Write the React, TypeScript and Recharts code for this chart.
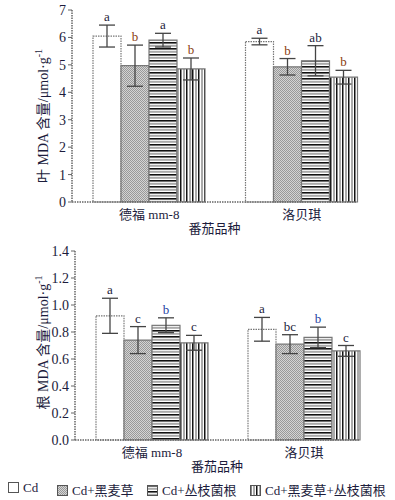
import React from "react";
import { BarChart, Bar, XAxis, YAxis, ErrorBar, LabelList, Label } from "recharts";

// cultivars on the x axis
const categories = ["德福 mm-8", "洛贝琪"];
const seriesNames = ["Cd", "Cd+黑麦草", "Cd+丛枝菌根", "Cd+黑麦草+丛枝菌根"];

// leaf MDA, one row per cultivar, one column per treatment
const leafMean = [
  [6.05, 4.97, 5.9, 4.85],
  [5.85, 4.93, 5.15, 4.55],
];
const leafErr = [
  [0.4, 0.75, 0.25, 0.4],
  [0.12, 0.3, 0.55, 0.25],
];
const leafSig = [
  ["a", "b", "a", "b"],
  ["a", "b", "ab", "b"],
];
const leafTicks = [0, 1, 2, 3, 4, 5, 6, 7];

// root MDA
const rootMean = [
  [0.92, 0.74, 0.85, 0.72],
  [0.82, 0.71, 0.76, 0.66],
];
const rootErr = [
  [0.13, 0.1, 0.055, 0.055],
  [0.088, 0.07, 0.076, 0.04],
];
const rootSig = [
  ["a", "c", "b", "c"],
  ["a", "bc", "b", "c"],
];
const rootTicks = [0, 0.2, 0.4, 0.6, 0.8, 1.0, 1.2, 1.4];

const FONT = '"Liberation Serif", "Noto Sans CJK SC", serif';
const INK = "#1c1c3c";
const fills = ["#ffffff", "url(#stip)", "url(#hstripe)", "url(#vstripe)"];
const leafLetterColor: Record<string, string> = { a: INK, b: "#8a3c10", ab: INK };
const rootLetterColor: Record<string, string> = { a: INK, b: "#1f3f9f", c: INK, bc: INK };

const buildRows = (mean: number[][], err: number[][], sig: string[][]) =>
  categories.map((name, i) => {
    const row: Record<string, string | number> = { name };
    mean[i].forEach((v, k) => {
      row["s" + k] = v;
      row["e" + k] = err[i][k];
      row["l" + k] = sig[i][k];
    });
    return row;
  });

const Patterns = () => (
  <defs>
    <pattern id="stip" width="2" height="2" patternUnits="userSpaceOnUse">
      <rect width="2" height="2" fill="#d4d4d4" />
      <rect width="1" height="1" fill="#999" />
      <rect x="1" y="1" width="1" height="1" fill="#999" />
    </pattern>
    <pattern id="hstripe" width="4" height="6" patternUnits="userSpaceOnUse">
      <rect width="4" height="6" fill="#fff" />
      <rect y="0" width="4" height="1.6" fill="#111" />
      <rect y="2.8" width="4" height="2" fill="#aaa" />
    </pattern>
    <pattern id="vstripe" width="6" height="4" patternUnits="userSpaceOnUse">
      <rect width="6" height="4" fill="#fff" />
      <rect x="0" width="1.5" height="4" fill="#111" />
      <rect x="3" width="2" height="4" fill="#aaa" />
    </pattern>
  </defs>
);

const YLabel = ({ viewBox, prefix, size, shift }: any) => {
  const x = viewBox.x + 43;
  const y = viewBox.y + viewBox.height / 2 + shift;
  return (
    <text
      x={x}
      y={y}
      transform={`rotate(-90, ${x}, ${y})`}
      textAnchor="middle"
      dominantBaseline="central"
      fontFamily={FONT}
      fontSize={size}
      fill={INK}
    >
      {prefix} MDA 含量/μmol·g
      <tspan dy={-5} fontSize={size - 4}>-1</tspan>
    </text>
  );
};

const makeLetter = (mean: number[][], err: number[][], k: number, colors: Record<string, string>) =>
  (props: any) => {
    const { x, y, width, height, value, index } = props;
    const m = mean[index][k];
    const top = y - (err[index][k] * height) / m;
    return (
      <text
        x={x + width / 2}
        y={top - 4}
        textAnchor="middle"
        fontFamily={FONT}
        fontSize={13}
        fill={colors[value] || INK}
      >
        {value}
      </text>
    );
  };

type PanelProps = {
  mean: number[][];
  err: number[][];
  sig: string[][];
  ticks: number[];
  max: number;
  prefix: string;
  height: number;
  top: number;
  yWidth: number;
  padRight: number;
  labelShift: number;
  labelSize: number;
  letters: Record<string, string>;
  fmt: (v: number) => string;
};

const Panel = (p: PanelProps) => {
  const rows = buildRows(p.mean, p.err, p.sig);
  return (
    <BarChart
      width={395}
      height={p.height}
      data={rows}
      margin={{ top: p.top, right: 395 - p.yWidth - p.padRight, left: 0, bottom: 8 }}
      barSize={28}
      barGap={0}
    >
      <Patterns />
      <XAxis
        dataKey="name"
        height={30}
        tickLine={false}
        axisLine={{ stroke: "#666", strokeWidth: 1.5, strokeDasharray: "1.5 1" }}
        tick={{ fontFamily: FONT, fontSize: 13, fill: INK }}
        tickMargin={2}
        padding={{ left: 1, right: -21 }}
      >
        <Label value="番茄品种" position="insideBottom" offset={-1} fontFamily={FONT} fontSize={13} fill={INK} />
      </XAxis>
      <YAxis
        type="number"
        domain={[0, p.max]}
        ticks={p.ticks}
        width={p.yWidth}
        interval={0}
        tickSize={4}
        tickFormatter={p.fmt}
        axisLine={{ stroke: "#666", strokeWidth: 1.5, strokeDasharray: "1.5 1" }}
        tickLine={{ stroke: "#666" }}
        tick={{ fontFamily: FONT, fontSize: 14, fill: INK }}
      >
        <Label content={<YLabel prefix={p.prefix} size={p.labelSize} shift={p.labelShift} />} />
      </YAxis>
      {seriesNames.map((s, k) => (
        <Bar
          key={s}
          dataKey={"s" + k}
          name={s}
          fill={fills[k]}
          stroke="#777"
          strokeWidth={1.2}
          strokeDasharray={k === 0 ? "1.5 1" : undefined}
          isAnimationActive={false}
        >
          <ErrorBar dataKey={"e" + k} width={8} stroke="#444" strokeWidth={1.3} direction="y" />
          <LabelList dataKey={"l" + k} content={makeLetter(p.mean, p.err, k, p.letters)} />
        </Bar>
      ))}
    </BarChart>
  );
};

const Swatch = ({ fill }: { fill: string }) => (
  <svg width={11} height={11} style={{ verticalAlign: "-1px", marginRight: 4 }}>
    <Patterns />
    <rect x={0.5} y={0.5} width={10} height={10} fill={fill} stroke="#555" strokeWidth={1} />
  </svg>
);

const legendLeft = [8, 57, 147, 250];

const App = () => (
  <div style={{ position: "absolute", left: 0, top: 0, width: 395, height: 500, background: "#fff", fontFamily: FONT }}>
    <div style={{ position: "absolute", left: 0, top: 0 }}>
      <Panel
        mean={leafMean}
        err={leafErr}
        sig={leafSig}
        ticks={leafTicks}
        max={7}
        prefix="叶"
        height={240}
        top={10}
        yWidth={72}
        padRight={285}
        labelShift={10}
        labelSize={14}
        letters={leafLetterColor}
        fmt={(v) => String(v)}
      />
    </div>
    <div style={{ position: "absolute", left: 0, top: 240 }}>
      <Panel
        mean={rootMean}
        err={rootErr}
        sig={rootSig}
        ticks={rootTicks}
        max={1.4}
        prefix="根"
        height={238}
        top={11}
        yWidth={75}
        padRight={284}
        labelShift={-3}
        labelSize={14}
        letters={rootLetterColor}
        fmt={(v) => v.toFixed(1)}
      />
    </div>
    {seriesNames.map((s, k) => (
      <div
        key={s}
        style={{ position: "absolute", left: legendLeft[k], top: 480, fontSize: 13, color: INK, whiteSpace: "nowrap" }}
      >
        <Swatch fill={fills[k]} />
        {s}
      </div>
    ))}
  </div>
);

export default App;
